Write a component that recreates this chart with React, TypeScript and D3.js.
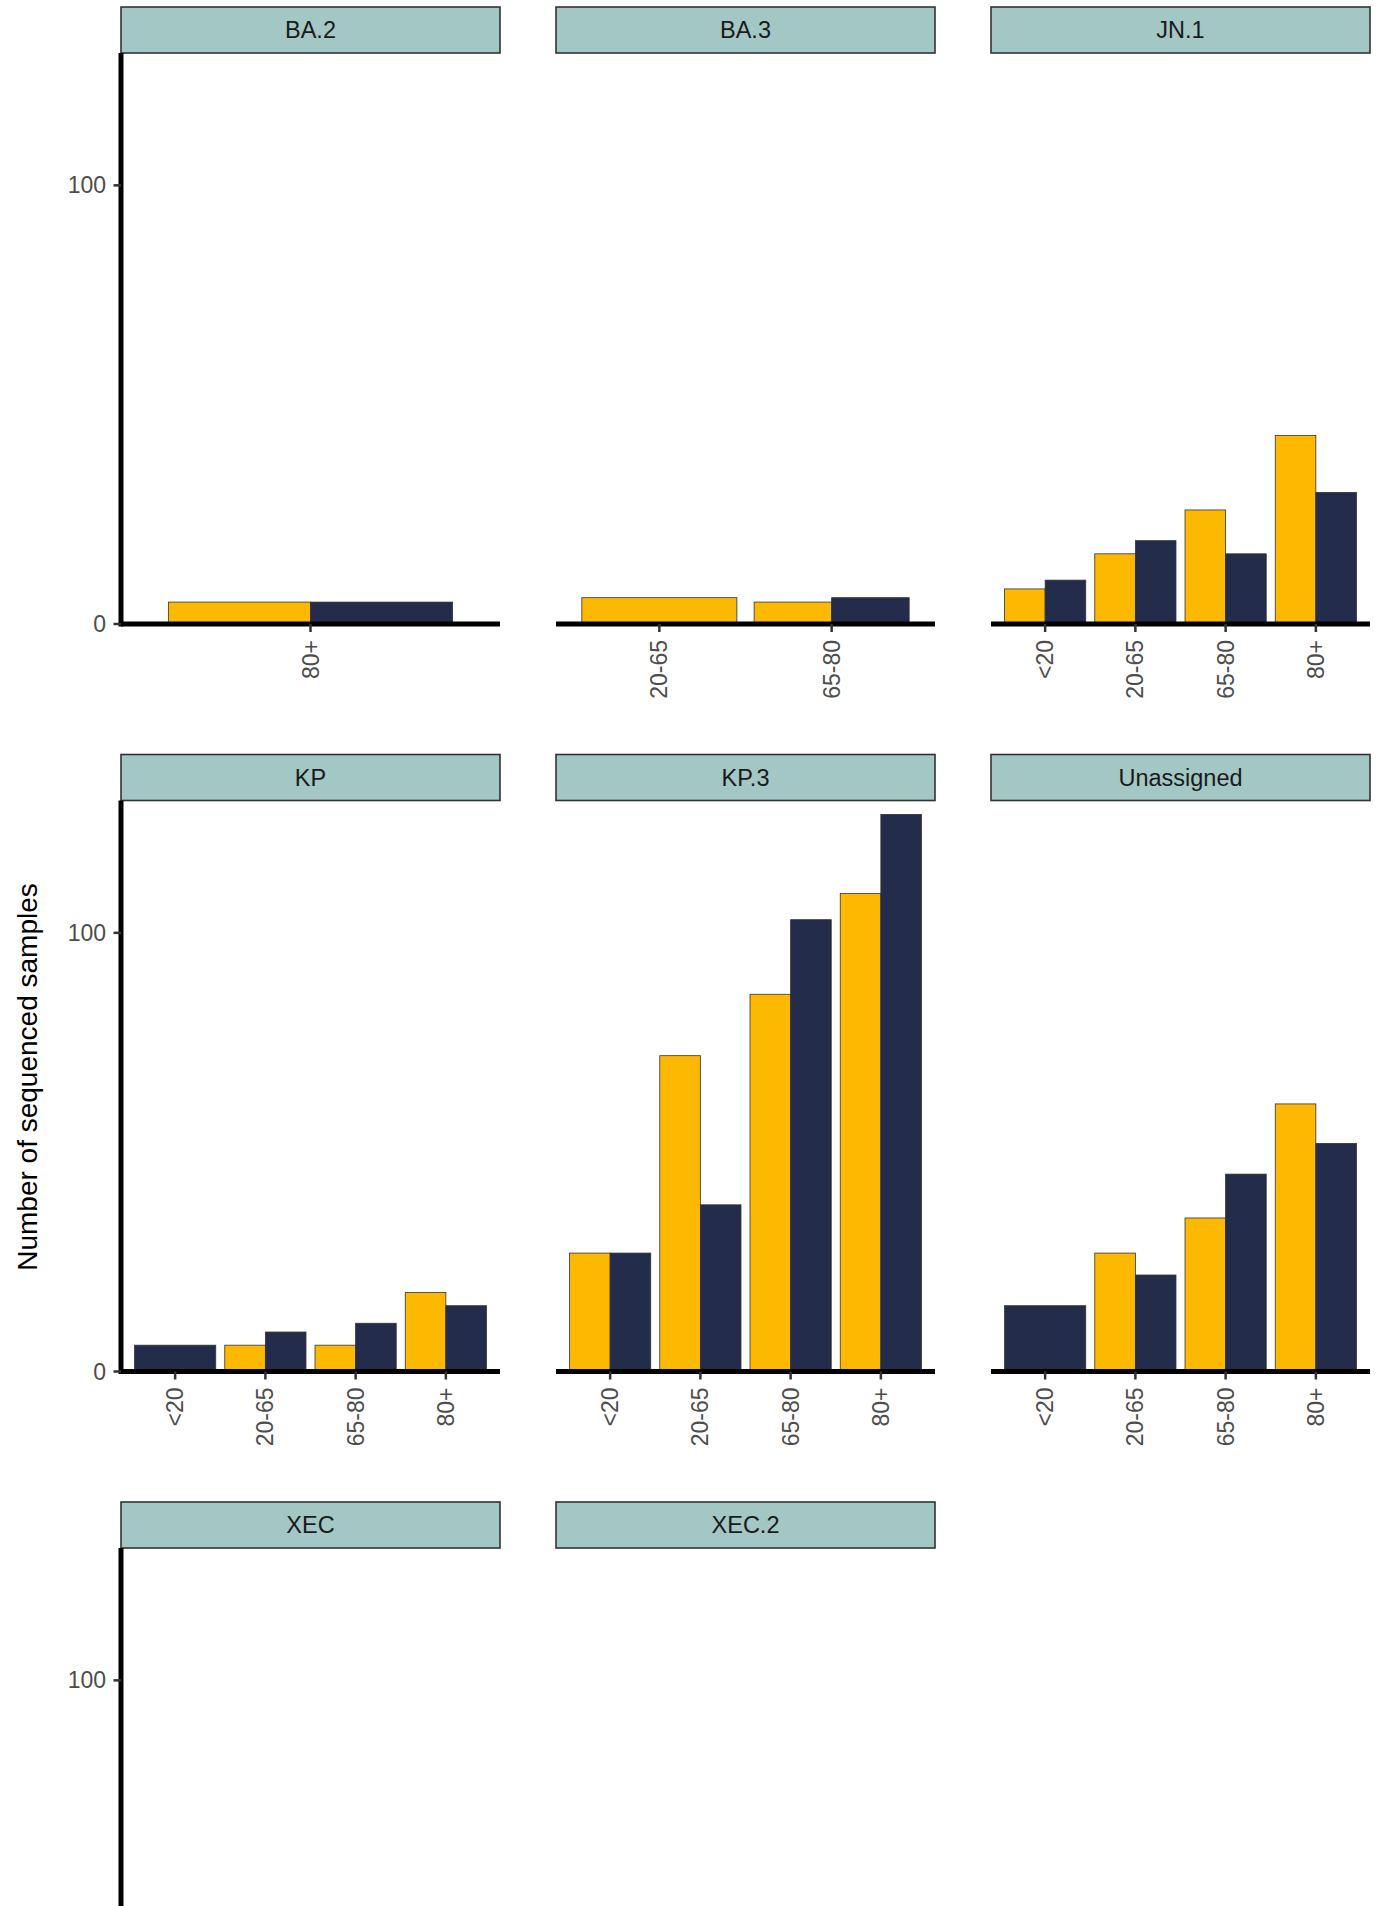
import React from "react";
import * as d3 from "d3";

// ---- Data ----
const lineages = ["BA.2", "BA.3", "JN.1", "KP", "KP.3", "Unassigned", "XEC", "XEC.2"];
const ageGroups = ["<20", "20-65", "65-80", "80+"];
const seriesNames = ["group1", "group2"];
const seriesColors = ["#FDB800", "#232D4B"];

// counts per lineage, aligned with ageGroups (null = no bar)
const group1Counts: (number | null)[][] = [
  [null, null, null, 5], // BA.2
  [null, 6, 5, null], // BA.3
  [8, 16, 26, 43], // JN.1
  [null, 6, 6, 18], // KP
  [27, 72, 86, 109], // KP.3
  [null, 27, 35, 61], // Unassigned
  [null, null, null, null], // XEC (below visible area)
  [null, null, null, null], // XEC.2 (below visible area)
];
const group2Counts: (number | null)[][] = [
  [null, null, null, 5],
  [null, null, 6, null],
  [10, 19, 16, 30],
  [6, 9, 11, 15],
  [27, 38, 103, 127],
  [15, 22, 45, 52],
  [null, null, null, null],
  [null, null, null, null],
];
const yTicks = [0, 100];

// ---- Layout ----
const W = 1384;
const H = 1906;
const colX = [121, 556, 991];
const panelW = 379;
const firstStripTop = 7;
const rowStep = 747.5;
const stripH = 46;
const panelH = 571;
const font = "'Liberation Sans', Arial, Helvetica, sans-serif";

export default function App() {
  const allVals = [...group1Counts.flat(), ...group2Counts.flat()].filter(
    (v): v is number => v != null
  );
  const yMax = (d3.max(allVals) ?? 1) * 1.025;
  const y = d3.scaleLinear().domain([0, yMax]).range([panelH, 0]);

  return (
    <svg
      width={W}
      height={H}
      style={{ position: "absolute", left: 0, top: 0, background: "#fff" }}
      fontFamily={font}
    >
      <rect x={0} y={0} width={W} height={H} fill="#fff" />
      {lineages.map((lin, li) => {
        const row = Math.floor(li / 3);
        const col = li % 3;
        const px = colX[col];
        const stripTop = firstStripTop + row * rowStep;
        const py = stripTop + stripH;
        const g1 = group1Counts[li];
        const g2 = group2Counts[li];
        const cats = ageGroups.filter((_, i) => g1[i] != null || g2[i] != null);
        const x = d3
          .scaleBand<string>()
          .domain(cats)
          .range([0, panelW])
          .paddingInner(0.1)
          .paddingOuter(0.15);
        const bars: { key: string; x: number; w: number; v: number; s: number }[] = [];
        cats.forEach((c) => {
          const i = ageGroups.indexOf(c);
          const present = [g1[i], g2[i]]
            .map((v, s) => ({ v, s }))
            .filter((d) => d.v != null) as { v: number; s: number }[];
          const inner = d3
            .scaleBand<string>()
            .domain(present.map((d) => seriesNames[d.s]))
            .range([x(c)!, x(c)! + x.bandwidth()])
            .padding(0);
          present.forEach((d) => {
            bars.push({
              key: c + d.s,
              x: inner(seriesNames[d.s])!,
              w: inner.bandwidth(),
              v: d.v,
              s: d.s,
            });
          });
        });
        const visibleTicks = yTicks.filter((t) => py + y(t) + 12 < H);
        return (
          <g key={lin}>
            {/* strip */}
            <rect
              x={px}
              y={stripTop}
              width={panelW}
              height={stripH}
              fill="#A2C7C5"
              stroke="#333333"
              strokeWidth={1.6}
            />
            <text
              x={px + panelW / 2}
              y={stripTop + stripH / 2}
              dy="0.36em"
              textAnchor="middle"
              fontSize={23.5}
              fill="#1A1A1A"
            >
              {lin}
            </text>
            <g transform={`translate(${px},${py})`}>
              {bars.map((b) => (
                <rect
                  key={b.key}
                  x={b.x}
                  y={y(b.v)}
                  width={b.w}
                  height={y(0) - y(b.v)}
                  fill={seriesColors[b.s]}
                  stroke="#333333"
                  strokeWidth={0.8}
                />
              ))}
              {/* x axis */}
              <line x1={0} x2={panelW} y1={panelH} y2={panelH} stroke="#000" strokeWidth={5} />
              {cats.map((c) => {
                const cx = x(c)! + x.bandwidth() / 2;
                return (
                  <g key={c}>
                    <line x1={cx} x2={cx} y1={panelH} y2={panelH + 8} stroke="#333" strokeWidth={2.5} />
                    <text
                      transform={`translate(${cx},${panelH + 16}) rotate(-90)`}
                      textAnchor="end"
                      dy="0.35em"
                      fontSize={23}
                      fill="#4D4D4D"
                    >
                      {c}
                    </text>
                  </g>
                );
              })}
              {/* y axis (first column only) */}
              {col === 0 && (
                <g>
                  <line x1={0} x2={0} y1={0} y2={panelH + 2.5} stroke="#000" strokeWidth={5} />
                  {visibleTicks.map((t) => (
                    <g key={t}>
                      <line x1={-7.5} x2={0} y1={y(t)} y2={y(t)} stroke="#333" strokeWidth={2.5} />
                      <text
                        x={-15}
                        y={y(t)}
                        dy="0.35em"
                        textAnchor="end"
                        fontSize={23}
                        fill="#4D4D4D"
                      >
                        {t}
                      </text>
                    </g>
                  ))}
                </g>
              )}
            </g>
          </g>
        );
      })}
      <text
        transform={`translate(37,1077) rotate(-90)`}
        textAnchor="middle"
        fontSize={28}
        fill="#000"
      >
        Number of sequenced samples
      </text>
    </svg>
  );
}
